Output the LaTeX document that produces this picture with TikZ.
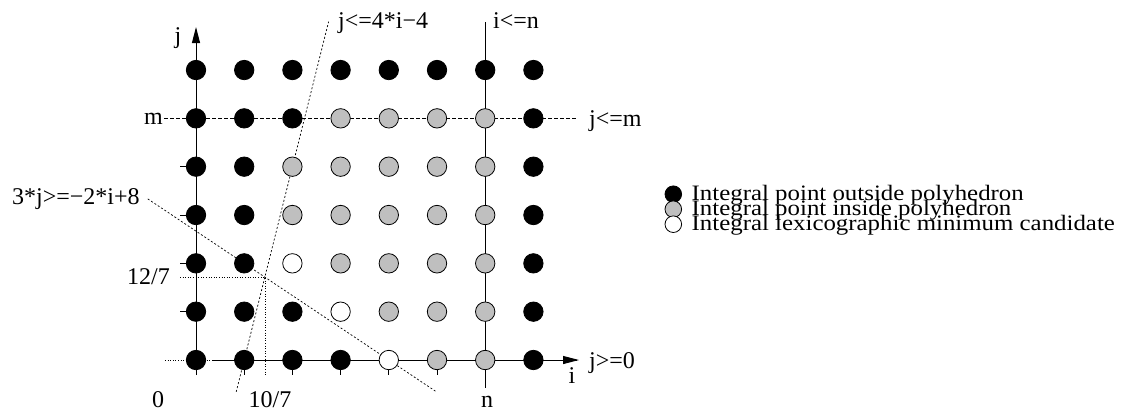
\documentclass[tikz,border=0pt]{standalone}
\usepackage{fontspec}
\usepackage{graphicx}
\setmainfont{Liberation Serif}
\usetikzlibrary{arrows.meta}
\definecolor{ingray}{gray}{0.75}
\newcommand{\lgtext}[1]{\scalebox{1.13}[1]{#1}}
\begin{document}
\begin{tikzpicture}[x=1pt,y=-1pt,
  pt/.style={circle,draw=black,line width=0.8pt,minimum size=19.4pt,inner sep=0pt},
  po/.style={pt,fill=black},
  pg/.style={pt,fill=ingray},
  pc/.style={pt,fill=white},
  lgpt/.style={circle,draw=black,line width=0.8pt,minimum size=16.6pt,inner sep=0pt},
  lbl/.style={inner sep=0pt,font=\fontsize{24}{24}\selectfont},
  lgd/.style={inner sep=0pt,font=\fontsize{22}{22}\selectfont,anchor=base west},
  axis/.style={line width=1pt,-{Triangle[length=16pt,width=8pt]}},
  solidline/.style={line width=1pt},
  tick/.style={line width=1pt},
  fdash/.style={line width=0.7pt,dash pattern=on 2pt off 2pt},
  mdash/.style={line width=0.7pt,dash pattern=on 4pt off 2pt},
  dotl/.style={line width=0.7pt,dash pattern=on 1pt off 1.6pt}
]
\useasboundingbox (0,0) rectangle (1123,413);

% coordinates for lines
\coordinate (jb) at (196,375);
\coordinate (jt) at (196,27);
\coordinate (ib) at (212,360);
\coordinate (it) at (579,360);
\coordinate (z0a) at (165,360);
\coordinate (z0b) at (578,360);
\coordinate (ma) at (164,118.3);
\coordinate (mb) at (577,118.3);
\coordinate (na) at (485.2,22);
\coordinate (nb) at (485.2,388);
\coordinate (l1a) at (236.2,391.9);
\coordinate (l1b) at (328.6,21.7);
\coordinate (l2a) at (147.8,198.9);
\coordinate (l2b) at (437.0,392.2);
\coordinate (q0) at (180,277.15);
\coordinate (q1) at (264.86,277.15);
\coordinate (q2) at (264.86,375);

% constraint lines
\draw[dotl] (z0a) -- (z0b);
\draw[mdash] (ma) -- (mb);
\draw[solidline] (na) -- (nb);
\draw[fdash] (l1a) -- (l1b);
\draw[fdash] (l2a) -- (l2b);
\draw[dotl] (q0) -- (q1) -- (q2);

% ticks
\foreach \j in {1,2,3,4} {
  \coordinate (tl\j) at (180,{360-48.33*\j});
  \coordinate (tr\j) at (196,{360-48.33*\j});
  \draw[tick] (tl\j) -- (tr\j);
}
\foreach \i in {1,2,3,4,5} {
  \coordinate (tt\i) at ({196+48.2*\i},360);
  \coordinate (tb\i) at ({196+48.2*\i},375);
  \draw[tick] (tt\i) -- (tb\i);
}

% axes
\draw[axis] (jb) -- (jt);
\draw[axis] (ib) -- (it);

% points
\foreach \j/\row in {6/{o,o,o,o,o,o,o,o},5/{o,o,o,g,g,g,g,o},4/{o,o,g,g,g,g,g,o},3/{o,o,g,g,g,g,g,o},2/{o,o,c,g,g,g,g,o},1/{o,o,o,c,g,g,g,o},0/{o,o,o,o,c,g,g,o}} {
  \foreach \s [count=\i from 0] in \row {
    \node[p\s] (p\i-\j) at ({196+48.2*\i},{360-48.33*\j}) {};
  }
}

% labels
\node[lbl,anchor=base] (lj) at (178,43) {j};
\node[lbl,anchor=base west] (lc1) at (338,28) {j<=4*i−4};
\node[lbl,anchor=base west] (lc2) at (493,28) {i<=n};
\node[lbl,anchor=base east] (lm) at (163,124) {m};
\node[lbl,anchor=base west] (lc3) at (589,126) {j<=m};
\node[lbl,anchor=base west] (lc4) at (12,204) {3*j>=−2*i+8};
\node[lbl,anchor=base east] (l127) at (170,284) {12/7};
\node[lbl,anchor=base] (l0) at (158,407) {0};
\node[lbl,anchor=base] (l107) at (270,407) {10/7};
\node[lbl,anchor=base] (ln) at (487,407) {n};
\node[lbl,anchor=base] (li) at (572,383) {i};
\node[lbl,anchor=base west] (lc5) at (589,368) {j>=0};

% legend
\node[lgpt,fill=black] (g1) at (673.3,194.2) {};
\node[lgpt,fill=ingray] (g2) at (673.3,209.2) {};
\node[lgpt,fill=white] (g3) at (673.3,224.2) {};
\node[lgd] (t1) at (691.5,200.5) {\lgtext{Integral point outside polyhedron}};
\node[lgd] (t2) at (691.5,215.5) {\lgtext{Integral point inside polyhedron}};
\node[lgd] (t3) at (691.5,230.5) {\lgtext{Integral lexicographic minimum candidate}};
\end{tikzpicture}
\end{document}
